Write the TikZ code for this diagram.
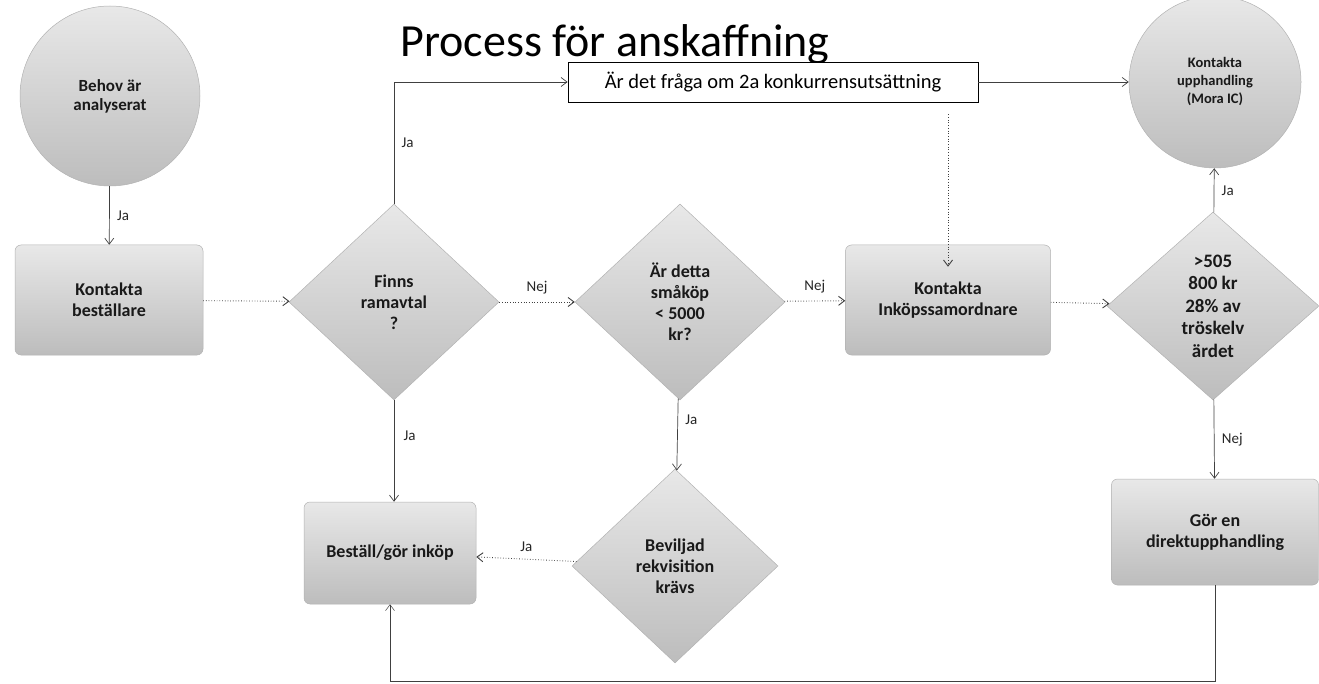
\documentclass[tikz,border=0pt]{standalone}
\usepackage{fontspec}
\setmainfont{Carlito}
\usetikzlibrary{shapes.geometric,arrows.meta,positioning,calc}
\begin{document}
\begin{tikzpicture}[x=1pt,y=-1pt,
  fillgray/.style={draw=black!30, line width=0.5pt, top color=black!9, bottom color=black!26},
  txt/.style={font=\bfseries\fontsize{18}{21}\selectfont, align=center, text=black!90},
  roundbox/.style={fillgray, txt, rectangle, rounded corners=6pt, inner sep=0pt},
  decision/.style={fillgray, txt, diamond, inner sep=0pt},
  startcirc/.style={fillgray, txt, circle, inner sep=0pt},
  conn/.style={draw=black!75, line width=0.7pt, -{Straight Barb[length=6pt,width=9pt]}},
  dotconn/.style={conn, dotted, line width=0.9pt},
  lbl/.style={font=\fontsize{15}{16}\selectfont, text=black!85}
]
\useasboundingbox (0,0) rectangle (1319,684);

\node[font=\fontsize{46}{50}\selectfont] (title) at (615,44) {Process för anskaffning};

\node[startcirc, minimum size=180pt, font=\bfseries\fontsize{17}{19}\selectfont] (behov) at (110,96) {Behov är\\analyserat};
\node[roundbox, minimum width=188pt, minimum height=110pt] (kontbest) at (109,300) {Kontakta\\beställare};
\node[decision, minimum width=210pt, minimum height=196pt] (finns) at (394,302) {Finns\\ramavtal\\?};
\node[decision, minimum width=210pt, minimum height=196pt] (smakop) at (680,302) {Är detta\\småköp\\< 5000\\kr?};
\node[roundbox, minimum width=205pt, minimum height=110pt] (inkop) at (948,300) {Kontakta\\Inköpssamordnare};
\node[decision, minimum width=212pt, minimum height=188pt, font=\bfseries\fontsize{19}{22.5}\selectfont] (grans) at (1213,306) {>505\\800 kr\\28\% av\\tröskelv\\ärdet};
\node[startcirc, minimum size=172pt, font=\bfseries\fontsize{14.5}{18}\selectfont] (upph) at (1215,82) {Kontakta\\upphandling\\(Mora IC)};
\node[draw=black, line width=0.8pt, fill=white, minimum width=410pt, minimum height=40pt,
      font=\fontsize{20.5}{22}\selectfont, inner sep=4pt] (fraga) at (773,82) {Är det fråga om 2a konkurrensutsättning};
\node[roundbox, minimum width=172pt, minimum height=102pt] (bestall) at (390,553) {Beställ/gör inköp};
\node[decision, minimum width=206pt, minimum height=194pt] (bevil) at (675,566) {Beviljad\\rekvisition\\krävs};
\node[roundbox, minimum width=207pt, minimum height=106pt] (direkt) at (1215,532) {Gör en\\direktupphandling};

\coordinate (bl) at (bestall.south |- 0,681);
\coordinate (br) at (direkt.south |- 0,681);

% connectors
\draw[conn] (behov) -- node[lbl, right=4pt] {Ja} (kontbest);
\draw[dotconn] (kontbest) -- (finns);
\draw[conn] (finns.north) |- node[lbl, pos=0.25, right=4pt] {Ja} (fraga.west);
\draw[dotconn] (finns) -- node[lbl, above=4pt] {Nej} (smakop);
\draw[dotconn] (smakop) -- node[lbl, above=4pt] {Nej} (inkop);
\draw[dotconn] (fraga.south -| inkop.north) ++(0,12) -- ([yshift=-22pt]inkop.north);
\draw[conn] (fraga) -- (upph);
\draw[dotconn] (inkop) -- (grans);
\draw[conn] (grans) -- node[lbl, right=4pt] {Ja} (upph);
\draw[conn] (grans) -- node[lbl, right=4pt] {Nej} (direkt);
\draw[conn] (finns.south) -- node[lbl, right=6pt, pos=0.35] {Ja} (finns.south |- bestall.north);
\draw[conn] (smakop) -- node[lbl, right=4pt, pos=0.3] {Ja} (bevil);
\draw[dotconn] (bevil) -- node[lbl, above=4pt] {Ja} (bestall);
\draw[conn, line width=0.5pt] (direkt.south) -- (br) -- (bl) -- (bestall.south);
\end{tikzpicture}
\end{document}
